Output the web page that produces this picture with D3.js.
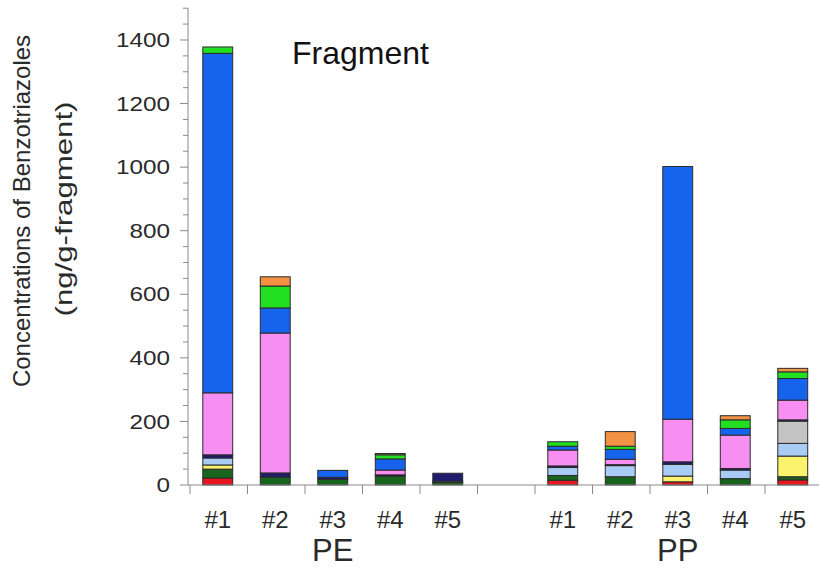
<!DOCTYPE html>
<html>
<head>
<meta charset="utf-8">
<script src="https://cdn.jsdelivr.net/npm/d3@7"></script>
<style>
  body { margin: 0; background: #fff; }
  svg { font-family: "Liberation Sans", Arial, sans-serif; }
</style>
</head>
<body>
<svg id="chart" width="819" height="569"></svg>
<script>
// samples, with an empty slot between the two polymers
const slots = ['PE#1', 'PE#2', 'PE#3', 'PE#4', 'PE#5', 'gap', 'PP#1', 'PP#2', 'PP#3', 'PP#4', 'PP#5'];
const samples = ['PE#1', 'PE#2', 'PE#3', 'PE#4', 'PE#5', 'PP#1', 'PP#2', 'PP#3', 'PP#4', 'PP#5'];
const sampleLabels = ['#1', '#2', '#3', '#4', '#5', '', '#1', '#2', '#3', '#4', '#5'];
const groups = ['PE', 'PP'];
const yTicks = [0, 200, 400, 600, 800, 1000, 1200, 1400];

// stack components, bottom to top (ng/g-fragment)
const compRed    = [22,   0,  0,  0,  0, 15,  0,  10,   0, 16];
const compDkGrn  = [28,  25, 18, 28,  8, 15, 26,   0,  20, 10];
const compYellow = [13,   0,  0,  0,  0,  0,  0,  18,   0, 65];
const compLtBlue = [22,   0,  0,  0,  4, 25, 35,  37,  27, 40];
const compGray   = [ 0,   0,  0,  0,  0,  0,  0,   0,   0, 70];
const compNavy   = [10,  13,  6,  4, 25,  5,  3,   8,   5,  4];
const compPink   = [195, 440, 0, 15,  0, 50, 17, 134, 105, 62];
const compBlue   = [1068, 79, 22, 35, 0, 12, 31, 795,  21, 68];
const compGreen  = [20,  69,  0, 13,  0, 14, 10,   0,  27, 21];
const compOrange = [ 0,  29,  0,  4,  0,  0, 46,   0,  13, 11];

const components = [
    {key: 'c1', values: compRed,    color: '#e8161e'},
    {key: 'c2', values: compDkGrn,  color: '#17641d'},
    {key: 'c3', values: compYellow, color: '#fbf36c'},
    {key: 'c4', values: compLtBlue, color: '#a9ccf4'},
    {key: 'c5', values: compGray,   color: '#c4c4c4'},
    {key: 'c6', values: compNavy,   color: '#211b6e'},
    {key: 'c7', values: compPink,   color: '#f78ff2'},
    {key: 'c8', values: compBlue,   color: '#1663ee'},
    {key: 'c9', values: compGreen,  color: '#22df22'},
    {key: 'c10', values: compOrange, color: '#f29242'}
];

const rows = samples.map((s, i) => {
    const row = {sample: s};
    components.forEach(c => { row[c.key] = c.values[i]; });
    return row;
});

const svg = d3.select('#chart');
const axisColor = '#8a8a8a';
const textColor = '#2a2a2a';

const x = d3.scaleBand().domain(slots).range([189, 821.5]).padding(0);
const y = d3.scaleLinear().domain([0, 1500]).range([485, 8.2]);

const stack = d3.stack().keys(components.map(c => c.key));
const series = stack(rows);
const barW = x.bandwidth() * 0.52;

// bars
svg.append('g')
    .selectAll('g')
    .data(series)
    .join('g')
    .attr('fill', (d, i) => components[i].color)
    .selectAll('rect')
    .data(d => d.filter(p => p[1] - p[0] > 0))
    .join('rect')
    .attr('x', d => x(d.data.sample) + (x.bandwidth() - barW) / 2)
    .attr('y', d => y(d[1]))
    .attr('width', barW)
    .attr('height', d => y(d[0]) - y(d[1]))
    .attr('stroke', '#2b2b2b')
    .attr('stroke-width', 1);

// y axis with minor ticks every 50
const yAxis = svg.append('g').attr('transform', 'translate(188,0)');
yAxis.append('line')
    .attr('y1', y(0)).attr('y2', y(1500))
    .attr('stroke', axisColor);
yAxis.selectAll('line.minor')
    .data(d3.range(0, 1501, 50))
    .join('line')
    .attr('class', 'minor')
    .attr('x1', d => yTicks.includes(d) ? -8 : -5)
    .attr('x2', 0)
    .attr('y1', d => y(d)).attr('y2', d => y(d))
    .attr('stroke', axisColor);
yAxis.selectAll('text')
    .data(yTicks)
    .join('text')
    .attr('x', -18)
    .attr('y', d => y(d))
    .attr('dy', '0.36em')
    .attr('text-anchor', 'end')
    .attr('font-size', 20)
    .attr('textLength', d => String(d).length * 13.5)
    .attr('lengthAdjust', 'spacingAndGlyphs')
    .attr('fill', textColor)
    .text(d => d);

// x axis with ticks at slot boundaries
const xAxis = svg.append('g');
xAxis.append('line')
    .attr('x1', 188).attr('x2', 819)
    .attr('y1', y(0)).attr('y2', y(0))
    .attr('stroke', axisColor);
xAxis.selectAll('line.tick')
    .data(slots)
    .join('line')
    .attr('class', 'tick')
    .attr('x1', d => x(d) + 1).attr('x2', d => x(d) + 1)
    .attr('y1', y(0)).attr('y2', y(0) + 9)
    .attr('stroke', axisColor);
xAxis.selectAll('text.sample')
    .data(slots)
    .join('text')
    .attr('class', 'sample')
    .attr('x', (d, i) => x(d) + x.bandwidth() / 2)
    .attr('y', 528)
    .attr('text-anchor', 'middle')
    .attr('font-size', 24)
    .attr('fill', textColor)
    .text((d, i) => sampleLabels[i]);
xAxis.selectAll('text.group')
    .data(groups)
    .join('text')
    .attr('class', 'group')
    .attr('x', d => x(d + '#3') + x.bandwidth() / 2)
    .attr('y', 561)
    .attr('text-anchor', 'middle')
    .attr('font-size', 31)
    .attr('fill', textColor)
    .text(d => d);

// y title, two lines
const yTitle = svg.append('text')
    .attr('transform', 'translate(0,211) rotate(-90)')
    .attr('text-anchor', 'middle')
    .attr('font-size', 24)
    .attr('fill', textColor);
yTitle.append('tspan').attr('x', 0).attr('y', 30).text('Concentrations of Benzotriazoles');
yTitle.append('tspan').attr('x', 2).attr('y', 72)
    .attr('textLength', 215)
    .attr('lengthAdjust', 'spacingAndGlyphs')
    .text('(ng/g-fragment)');

svg.append('text')
    .attr('x', 292)
    .attr('y', 64)
    .attr('font-size', 32)
    .attr('fill', '#111')
    .text('Fragment');
</script>
</body>
</html>
